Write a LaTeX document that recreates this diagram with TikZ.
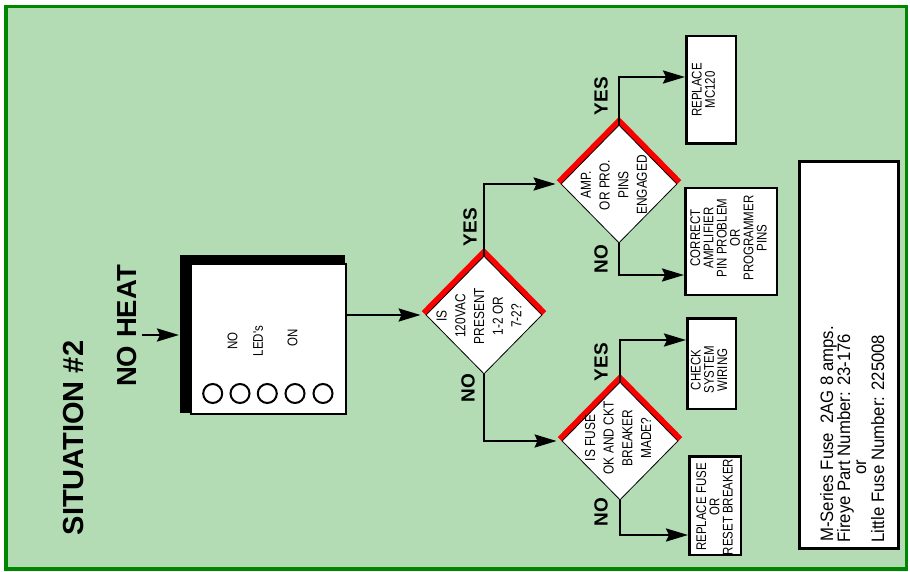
\documentclass[tikz,border=0pt]{standalone}
\usepackage{fontspec}
\setmainfont{Liberation Sans}
\newfontfamily\narf{Liberation Sans}[FakeStretch=0.82]
\newfontfamily\infof{Liberation Sans}[FakeStretch=0.93]
\usetikzlibrary{shapes.geometric,arrows.meta}
\pgfdeclarelayer{bg}
\pgfsetlayers{bg,main}
\definecolor{bgreen}{RGB}{179,220,180}
\definecolor{dgreen}{RGB}{0,135,0}
\definecolor{fred}{RGB}{250,0,0}
\begin{document}
\begin{tikzpicture}[x=1pt,y=-1pt,
  dia/.style={diamond, draw=black, line width=0.8pt, fill=white, inner sep=0pt, minimum width=116pt, minimum height=118pt},
  redband/.style={draw=fred, line width=11pt, line join=miter},
  mainbox/.style={draw=black, fill=white, line width=2pt, inner sep=0pt},
  rbox/.style={draw=black, fill=white, line width=2.5pt, inner sep=0pt},
  ledc/.style={circle, draw=black, fill=white, line width=2pt, inner sep=0pt, minimum size=19pt},
  conn/.style={line width=2.6pt, -{Stealth[length=22pt,width=13pt,inset=3pt]}},
  dtxt/.style={rotate=90, align=center, inner sep=0pt, font=\narf\fontsize{14.5}{18.7}\selectfont},
  btxt/.style={rotate=90, align=center, inner sep=0pt, font=\narf\fontsize{14}{13.3}\selectfont},
  ledtxt/.style={rotate=90, inner sep=0pt, font=\narf\fontsize{14}{14}\selectfont},
  lbl/.style={rotate=90, inner sep=0pt, font=\bfseries\fontsize{19}{19}\selectfont},
  title/.style={rotate=90, inner sep=0pt, font=\bfseries\fontsize{29}{29}\selectfont},
  itxt/.style={rotate=90, anchor=base west, inner sep=0pt, font=\infof\fontsize{18}{18}\selectfont}
]
\useasboundingbox (0,0) rectangle (910,572);
\begin{pgfonlayer}{bg}
\draw[draw=dgreen, fill=bgreen, line width=3.5pt] (5.75,6.75) rectangle (906.25,568.75);
\end{pgfonlayer}

% titles
\node[title] (sit) at (74,438) {SITUATION \#2};
\node[title, font=\bfseries\fontsize{27.5}{27.5}\selectfont] (noheat) at (127,326) {NO HEAT};

% main box with shadow
\fill[black] (180,255) rectangle (345,413);
\node[mainbox, minimum width=155pt, minimum height=150pt] (box) at (268.5,339) {};
\node[ledtxt] (tno) at (232.5,341) {NO};
\node[ledtxt] (tled) at (258,341) {LED's};
\node[ledtxt] (ton) at (292.5,338) {ON};
\foreach \x/\n in {212.7/1, 240/2, 267.3/3, 295/4, 323/5}
  \node[ledc] (led\n) at (\x,393.5) {};

\coordinate (nhs) at (142,335);
\draw[conn, shorten >=11pt] (nhs) -- (nhs -| box.west);

% diamonds
\node[dia] (d1) at (484,315) {};
\node[dia] (d2) at (619,184) {};
\node[dia] (d3) at (620,441) {};
\begin{pgfonlayer}{bg}
\draw[redband] (d1.west) -- (d1.north) -- (d1.east);
\draw[redband] (d2.west) -- (d2.north) -- (d2.east);
\draw[redband] (d3.west) -- (d3.north) -- (d3.east);
\end{pgfonlayer}
\node[dtxt] (d1t) at (479,316) {IS\\120VAC\\PRESENT\\1-2 OR\\7-2?};
\node[dtxt] (d2t) at (614,185) {AMP.\\OR PRO.\\PINS\\ENGAGED};
\node[dtxt] (d3t) at (618,438) {IS FUSE\\OK AND CKT\\BREAKER\\MADE?};

% result boxes
\node[rbox, minimum width=49.5pt, minimum height=107.5pt] (rb1) at (711,90) {};
\node[rbox, minimum width=91.5pt, minimum height=106.5pt] (rb2) at (731,241.5) {};
\node[rbox, minimum width=48.5pt, minimum height=90.5pt] (rb3) at (711.5,363.5) {};
\node[rbox, minimum width=51.5pt, minimum height=98.5pt] (rb4) at (715,505.5) {};
\node[btxt] (rb1t) at (703.5,90) {REPLACE\\MC120};
\node[btxt] (rb2t) at (728.5,238) {CORRECT\\AMPLIFIER\\PIN PROBLEM\\OR\\PROGRAMMER\\PINS};
\node[btxt] (rb3t) at (709,370) {CHECK\\SYSTEM\\WIRING};
\node[btxt] (rb4t) at (714.5,507) {REPLACE FUSE\\OR\\RESET BREAKER};

% info box
\node[draw=black, fill=white, line width=3pt, inner sep=0pt, minimum width=99pt, minimum height=387pt] (info) at (849,355) {};
\node[itxt] (i1) at (833,542) {M-Series Fuse\ \ 2AG 8 amps.};
\node[itxt] (i2) at (850,543) {Fireye Part Number: 23-176};
\node[itxt] (i3) at (866,475) {or};
\node[itxt] (i4) at (884,543) {Little Fuse Number: 225008};

% connectors
\draw[conn, shorten >=5pt] (d1.west -| box.east) -- (d1.west);
\draw[conn, shorten >=5pt] (d1.north) |- (d2.west);
\draw[conn, shorten >=5pt] (d1.south) |- (d3.west);
\draw[conn] (d2.north) |- ([yshift=13pt]rb1.west);
\draw[conn] (d2.south) |- ([yshift=-33.5pt]rb2.west);
\draw[conn] (d3.north) |- ([yshift=23.5pt]rb3.west);
\draw[conn] (d3.south) |- ([yshift=-29.5pt]rb4.west);

% labels
\node[lbl] (y1) at (470,227) {YES};
\node[lbl] (n1) at (468,388) {NO};
\node[lbl] (y2) at (601,96) {YES};
\node[lbl] (n2) at (601,259) {NO};
\node[lbl] (y3) at (601,362) {YES};
\node[lbl] (n3) at (601,512) {NO};
\end{tikzpicture}
\end{document}
